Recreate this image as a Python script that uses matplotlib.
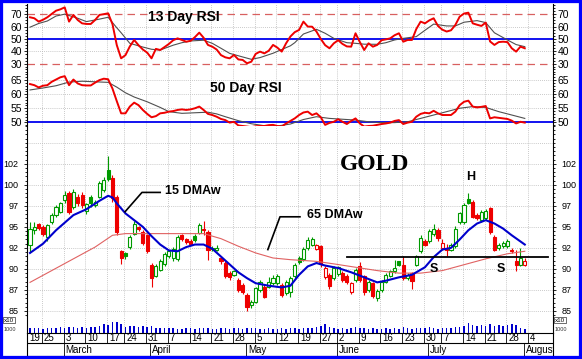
import numpy as np
import pandas as pd
import matplotlib
matplotlib.use('Agg')
from matplotlib import pyplot as plt
from matplotlib.ticker import MultipleLocator, FixedLocator
from matplotlib.patches import Rectangle

plt.rcParams['font.family'] = ['Liberation Sans', 'DejaVu Sans']

# trading days: data ends Jul 31, axis runs on one more week
holidays = ['2008-03-21', '2008-05-26', '2008-07-04']
days = pd.bdate_range('2008-02-19', '2008-08-08')
days = days[~days.isin(pd.to_datetime(holidays))]

opens = [92.9, 94.6, 95.3, 95.0, 93.8, 95.6, 96.4, 96.8, 98.2, 99.0,
         97.4, 98.6, 98.8, 96.9, 98.6, 97.6, 98.6, 99.4, 101.8, 100.8,
         98.6, 92.1, 91.95, 92.65, 94.2, 95.0, 94.4, 94.0, 90.5, 89.2,
         89.9, 90.6, 91.5, 91.3, 91.2, 94.0, 93.5, 93.3, 93.9, 94.3,
         94.7, 94.4, 92.5, 92.3, 91.3, 90.7, 89.5, 89.3, 88.7, 88.1,
         86.9, 85.7, 86.1, 87.5, 87.9, 87.9, 88.3, 88.3, 88.1, 87.1,
         87.2, 89.1, 91.3, 91.2, 92.5, 92.9, 92.4, 92.7, 89.0, 89.3,
         88.9, 89.4, 89.5, 89.2, 87.2, 88.7, 90.3, 89.1, 87.5, 88.3,
         86.6, 87.5, 88.5, 89.2, 89.7, 90.9, 90.5, 88.9, 89.5, 90.5,
         92.1, 93.3, 93.3, 94.1, 94.6, 92.5, 92.4, 92.3, 92.7, 95.6,
         95.6, 98.3, 98.0, 96.4, 95.8, 96.0, 97.2, 93.85, 92.5, 92.7,
         92.7, 92.3, 90.9, 90.5, 90.5]
highs = [95.6, 95.6, 95.5, 95.2, 95.3, 96.6, 97.6, 98.0, 99.3, 99.3,
         99.5, 98.9, 99.1, 97.9, 98.8, 98.2, 100.4, 100.9, 103.4, 101.2,
         98.8, 92.3, 92.0, 94.0, 95.7, 95.1, 94.6, 94.1, 90.7, 90.6,
         91.2, 92.0, 92.3, 92.6, 94.0, 94.2, 93.7, 93.5, 94.1, 95.5,
         95.7, 94.6, 92.7, 92.8, 91.5, 90.9, 89.7, 89.9, 88.9, 88.3,
         87.1, 86.3, 87.9, 88.7, 88.1, 89.0, 89.3, 89.4, 88.3, 88.7,
         89.1, 90.7, 91.5, 92.6, 93.8, 93.8, 93.0, 92.9, 90.3, 89.5,
         90.3, 90.4, 89.7, 89.4, 88.5, 90.1, 90.8, 89.3, 88.7, 88.5,
         87.6, 88.7, 89.5, 89.9, 91.1, 91.0, 91.5, 89.5, 89.6, 91.7,
         94.0, 93.5, 94.7, 95.3, 94.9, 93.6, 93.0, 93.1, 95.1, 96.8,
         97.8, 99.0, 98.2, 96.6, 97.0, 97.1, 97.4, 94.0, 93.1, 93.3,
         93.5, 92.5, 92.3, 92.5, 91.3]
lows = [92.0, 94.2, 94.6, 93.9, 93.3, 95.3, 96.2, 96.6, 97.8, 96.5,
        97.1, 97.5, 97.3, 96.5, 97.4, 97.4, 98.4, 99.2, 100.4, 98.0,
        94.0, 90.6, 91.2, 92.4, 94.0, 94.5, 92.9, 91.9, 87.9, 89.0,
        89.7, 90.4, 91.3, 91.0, 90.9, 93.3, 93.0, 92.8, 93.2, 94.1,
        94.0, 91.1, 92.1, 92.1, 90.6, 88.9, 88.7, 89.1, 87.3, 87.0,
        85.0, 85.3, 85.9, 87.3, 86.5, 87.7, 88.1, 88.1, 86.7, 86.9,
        86.7, 88.9, 90.6, 91.0, 92.3, 92.7, 92.2, 90.2, 88.8, 87.6,
        88.7, 89.2, 88.5, 88.2, 87.0, 88.5, 88.5, 86.9, 87.3, 86.5,
        86.2, 87.3, 88.3, 89.0, 89.5, 90.3, 88.7, 88.7, 87.6, 90.3,
        91.9, 92.7, 93.1, 93.9, 93.3, 92.2, 91.5, 92.1, 92.5, 95.4,
        95.4, 97.7, 96.0, 95.8, 95.6, 95.8, 94.2, 92.1, 92.3, 92.5,
        92.5, 91.9, 89.7, 90.3, 90.3]
closes = [94.8, 95.0, 94.9, 94.2, 95.2, 96.4, 97.4, 97.8, 98.8, 96.8,
          99.2, 97.8, 97.6, 97.7, 97.8, 98.0, 100.2, 100.6, 100.7, 98.4,
          94.4, 91.3, 91.55, 93.85, 95.4, 94.8, 93.1, 92.1, 88.9, 90.4,
          91.0, 91.8, 92.1, 92.4, 93.8, 93.5, 93.2, 93.0, 93.4, 95.2,
          94.6, 92.3, 92.35, 92.5, 90.9, 89.1, 89.0, 89.7, 87.5, 87.3,
          85.5, 86.1, 87.7, 88.5, 86.7, 88.5, 88.9, 89.1, 86.9, 88.5,
          88.9, 90.5, 90.8, 92.4, 93.4, 93.5, 92.8, 90.6, 90.1, 88.0,
          90.1, 90.2, 88.7, 88.4, 88.3, 89.9, 88.7, 87.2, 88.5, 86.8,
          87.4, 88.5, 89.3, 89.7, 90.1, 90.5, 88.9, 89.3, 88.6, 91.5,
          93.7, 92.9, 94.5, 94.8, 93.65, 93.05, 92.3, 92.9, 94.8, 96.6,
          97.6, 97.9, 96.2, 96.0, 96.8, 96.9, 94.45, 92.3, 92.9, 93.1,
          93.3, 92.1, 90.5, 91.3, 91.0]
volume = [5, 5, 5, 4, 5, 5, 5, 6, 5, 6,
          6, 5, 6, 5, 6, 6, 7, 9, 8, 11,
          11, 9, 6, 7, 7, 6, 7, 6, 7, 5,
          5, 5, 5, 5, 4, 4, 5, 5, 4, 5,
          5, 5, 4, 4, 5, 5, 4, 5, 5, 4,
          5, 5, 5, 4, 4, 5, 4, 4, 5, 4,
          5, 5, 4, 5, 5, 5, 6, 7, 9, 6,
          5, 4, 5, 4, 5, 6, 5, 5, 4, 5,
          4, 4, 5, 4, 5, 4, 6, 5, 4, 5,
          5, 5, 6, 5, 4, 5, 5, 5, 6, 6,
          7, 10, 8, 7, 8, 7, 9, 7, 8, 7,
          8, 9, 8, 5, 4]

rsi13 = [67.5, 66.7, 64.0, 65.5, 67.5, 70.2, 72.8, 73.9, 75.5, 64.0,
         69.4, 65.3, 62.6, 62.1, 62.1, 65.3, 69.4, 70.0, 70.7, 62.0,
         45.0, 34.4, 37.0, 44.0, 49.2, 45.0, 41.5, 39.0, 34.4, 42.0,
         41.1, 43.5, 46.0, 49.0, 50.5, 49.2, 47.8, 48.5, 51.5, 55.1,
         51.0, 45.2, 43.8, 41.5, 37.0, 35.2, 34.4, 37.1, 33.5, 33.1,
         30.4, 31.7, 38.0, 39.8, 38.4, 40.5, 45.2, 43.0, 39.8, 46.5,
         52.0, 55.5, 57.3, 64.0, 60.0, 59.9, 56.0, 50.0, 45.0, 42.5,
         46.5, 49.0, 46.0, 44.0, 43.8, 54.6, 47.5, 41.1, 46.5, 43.8,
         45.2, 49.0, 49.7, 50.5, 53.0, 54.6, 47.8, 49.2, 49.2, 58.0,
         64.0, 62.6, 65.0, 66.7, 60.5, 57.5, 56.0, 57.0, 61.3, 68.0,
         70.5, 71.2, 62.6, 61.5, 60.5, 63.2, 48.0, 45.2, 47.5, 47.8,
         47.5, 42.5, 39.8, 43.8, 42.5]
rsi50 = [63.6, 63.2, 62.4, 63.0, 63.2, 64.4, 65.2, 66.0, 66.4, 63.2,
         65.2, 63.8, 63.2, 63.1, 63.1, 64.1, 65.0, 65.5, 65.3, 62.0,
         57.5, 53.2, 53.2, 55.6, 57.0, 56.1, 54.4, 53.0, 51.8, 52.2,
         53.2, 53.4, 53.8, 54.0, 54.4, 54.6, 54.4, 54.6, 55.0, 55.6,
         54.4, 53.0, 52.6, 52.0, 51.2, 50.8, 49.9, 50.2, 48.9, 48.7,
         48.5, 48.3, 48.6, 48.7, 48.7, 49.0, 49.1, 48.7, 48.5, 49.6,
         50.5, 51.4, 52.6, 53.5, 53.8, 52.6, 53.2, 51.8, 49.1, 49.8,
         50.2, 51.1, 50.2, 49.4, 50.5, 51.4, 49.6, 48.5, 48.7, 48.8,
         49.1, 49.4, 49.6, 49.9, 50.5, 50.8, 49.4, 49.9, 50.2, 52.0,
         53.0, 53.4, 53.2, 54.1, 53.2, 52.6, 52.6, 52.6, 53.8, 56.1,
         57.3, 57.7, 55.6, 55.3, 55.5, 55.8, 51.4, 51.8, 51.6, 51.4,
         51.2, 50.6, 49.6, 50.2, 49.9]

sig13_days = [0, 2, 4, 6, 8, 11, 13, 16, 18, 20, 21, 23, 26, 28, 30, 33, 35, 37,
              40, 42, 44, 46, 49, 51, 53, 56, 58, 60, 61, 63, 66, 68, 70, 73, 75,
              77, 80, 82, 84, 86, 89, 91, 93, 96, 98, 100, 103, 105, 107, 110, 112, 114]
sig13 = [59.5, 62.5, 64.5, 68.5, 70.0, 66.7, 64.0, 66.0, 67.5, 59.0, 55.0, 46.5,
         43.5, 41.7, 41.1, 45.0, 47.0, 48.4, 49.0, 46.5, 42.5, 38.4, 35.5, 33.6,
         35.0, 38.5, 41.5, 44.5, 47.0, 54.0, 57.8, 54.6, 50.5, 47.0, 46.5, 45.8,
         45.7, 47.0, 49.2, 50.5, 51.9, 57.0, 62.0, 60.5, 60.5, 63.5, 64.8, 63.2,
         55.0, 49.2, 45.5, 43.8]
sig50_days = [0, 3, 6, 9, 12, 15, 18, 20, 22, 24, 27, 30, 32, 35, 38, 41, 43, 45,
              48, 51, 54, 57, 60, 63, 66, 69, 72, 75, 78, 81, 84, 87, 90, 93, 96,
              99, 102, 105, 108, 111, 114]
sig50 = [61.5, 62.2, 63.0, 64.3, 64.6, 64.4, 64.2, 62.5, 60.5, 59.0, 57.3, 55.3,
         53.8, 53.2, 53.4, 53.6, 53.0, 52.0, 50.6, 49.5, 48.8, 48.7, 49.4, 51.0,
         52.0, 51.4, 51.1, 50.8, 50.2, 49.9, 49.9, 50.2, 51.4, 52.6, 53.8, 55.0,
         55.6, 55.3, 53.8, 52.6, 51.4]

ma15_days = [0, 3, 6, 10, 13, 16, 18, 19, 20, 22, 24, 26, 28, 30, 32, 34, 36, 38,
             40, 42, 45, 48, 50, 52, 55, 58, 60, 62, 64, 66, 68, 71, 74, 77, 80,
             82, 85, 88, 91, 93, 95, 97, 99, 101, 103, 105, 107, 109, 111, 114]
ma15 = [91.9, 93.0, 94.6, 96.4, 97.1, 98.1, 98.7, 98.5, 97.8, 96.6, 95.8, 95.0,
        93.9, 92.9, 92.2, 92.1, 92.6, 92.9, 92.9, 92.4, 91.0, 89.6, 88.9, 88.3,
        88.0, 87.8, 88.0, 89.3, 90.3, 90.7, 90.4, 90.1, 89.6, 89.0, 88.4, 88.6,
        89.0, 89.3, 90.2, 91.4, 92.3, 92.5, 93.5, 94.6, 95.4, 95.8, 95.4, 94.8,
        94.0, 92.9]
ma65_days = [0, 5, 10, 15, 19, 22, 26, 30, 35, 40, 44, 48, 52, 56, 60, 66, 70,
             75, 80, 85, 90, 95, 100, 105, 110, 114]
ma65 = [88.4, 89.8, 91.2, 92.6, 94.0, 94.2, 94.2, 94.2, 94.2, 94.2, 93.6, 92.7,
        91.9, 91.3, 91.1, 90.9, 90.6, 90.2, 89.8, 89.5, 89.5, 89.8, 90.5, 91.2,
        91.8, 92.1]

neck_level = 91.45
neck_from, neck_to = 73, 119.3

W, H = 582, 359
fig = plt.figure(figsize=(W / 100, H / 100), dpi=100)
fig.patch.set_facecolor('white')


def box(top, bottom):
    return [27 / W, 1 - bottom / H, 526 / W, (bottom - top) / H]


ax13 = fig.add_axes(box(4, 68))
ax50 = fig.add_axes(box(68, 126))
axp = fig.add_axes(box(126, 316))
axv = fig.add_axes(box(316, 333))
axd = fig.add_axes(box(333, 356))

x = np.arange(len(closes))
xlim = (-0.69, 120.5)

# week and month boundaries
week_start = [i for i in range(len(days))
              if i == 0 or days[i].isocalendar()[1] != days[i - 1].isocalendar()[1]]
month_start = [i for i in range(1, len(days)) if days[i].month != days[i - 1].month]
sep = 1.25

grid_kw = dict(color='#b8b8b8', lw=0.6, ls=(0, (1, 1.5)), zorder=0)
for ax in (ax13, ax50, axp, axv):
    ax.set_xlim(*xlim)
    ax.set_xticks([])
    ax.spines['top'].set_visible(False)
    ax.spines['bottom'].set_visible(False)
    for s in ('left', 'right'):
        ax.spines[s].set_linewidth(0.8)
    for w in week_start[1:]:
        ax.axvline(w - sep, **grid_kw)
    ax.tick_params(axis='y', which='both', left=True, right=True,
                   labelleft=True, labelright=True, direction='out',
                   length=2, width=0.6, pad=1.5)
    ax.tick_params(axis='y', which='minor', length=1.5)

# 13 day RSI
ax13.set_ylim(26.6, 78.2)
ax13.yaxis.set_major_locator(FixedLocator([30, 40, 50, 60, 70]))
ax13.yaxis.set_minor_locator(MultipleLocator(2.5))
ax13.tick_params(axis='y', labelsize=7.5)
for v in (40, 60):
    ax13.axhline(v, **grid_kw)
for v in (30, 70):
    ax13.axhline(v, color='#d86060', lw=0.9, ls=(0, (6, 4)), zorder=1)
ax13.axhline(50, color='#0000ee', lw=1.3, zorder=1)
ax13.plot(sig13_days, sig13, color='#505050', lw=0.8, zorder=2)
ax13.plot(x, rsi13, color='#ee0000', lw=1.4, zorder=3)
ax13.text(27.2, 67.7, '13 Day RSI', fontsize=10, fontweight='bold', va='center')

# 50 day RSI
ax50.set_ylim(48.7, 69.3)
ax50.yaxis.set_major_locator(FixedLocator([50, 55, 60, 65]))
ax50.yaxis.set_minor_locator(MultipleLocator(1))
ax50.tick_params(axis='y', labelsize=7.5)
for v in (55, 60, 65):
    ax50.axhline(v, **grid_kw)
ax50.axhline(50, color='#0000ee', lw=1.3, zorder=1)
ax50.plot(sig50_days, sig50, color='#505050', lw=0.8, zorder=2)
ax50.plot(x, rsi50, color='#ee0000', lw=1.4, zorder=3)
ax50.text(41.5, 62.2, '50 Day RSI', fontsize=10, fontweight='bold', va='center')

# price candles
axp.set_ylim(84.4, 107.0)
price_ticks = np.arange(85, 103, 2.5)
axp.yaxis.set_major_locator(FixedLocator(price_ticks))
axp.set_yticklabels([str(int(v)) for v in price_ticks])
axp.yaxis.set_minor_locator(MultipleLocator(0.5))
axp.tick_params(axis='y', labelsize=6.5, pad=4)
for v in np.arange(85, 106, 2.5):
    axp.axhline(v, **grid_kw)

o = np.array(opens)
c = np.array(closes)
prev = np.r_[c[0] - 1, c[:-1]]
col = np.where(c >= prev, '#009a00', '#ee0000')
hollow = c > o
axp.vlines(x, lows, highs, colors=col, lw=0.8, zorder=2)
body_lo = np.minimum(o, c)
body_h = np.maximum(np.abs(c - o), 0.08)
face = np.where(hollow, 'white', col)
axp.bar(x, body_h, bottom=body_lo, width=0.72, color=face, edgecolor=col,
        linewidth=0.8, zorder=2)

axp.plot(ma65_days, ma65, color='#e06262', lw=0.8, zorder=3)
axp.plot(ma15_days, ma15, color='#0000cc', lw=1.5, zorder=3)
axp.plot([neck_from, neck_to], [neck_level, neck_level], color='black', lw=1.3, zorder=4)

axp.plot([21.9, 25.8, 30.0], [96.8, 99.1, 99.1], color='black', lw=1.2, zorder=4)
axp.text(31.1, 99.25, '15 DMAw', fontsize=9, fontweight='bold', va='center')
axp.plot([54.8, 57.6, 62.2], [92.3, 96.2, 96.2], color='black', lw=1.2, zorder=4)
axp.text(63.8, 96.4, '65 DMAw', fontsize=9, fontweight='bold', va='center')
axp.text(79.5, 102.4, 'GOLD', fontsize=17, fontweight='bold', ha='center',
         va='center', family=['Liberation Serif', 'DejaVu Serif'])
axp.text(101.6, 100.95, 'H', fontsize=9, fontweight='bold', ha='center', va='center')
for sx in (93.1, 108.5):
    axp.text(sx, 90.0, 'S', fontsize=9, fontweight='bold', ha='center', va='center', zorder=5)

# volume
axv.set_ylim(0, 17)
axv.set_yticks([])
axv.bar(x, volume, width=0.35, color='#0000cc', zorder=2)
for xf in (4 / W, 555 / W):
    fig.text(xf, 1 - 320 / H, 'x10', fontsize=4.5, va='center',
             bbox=dict(boxstyle='square,pad=0.15', fc='white', ec='black', lw=0.4))
    fig.text(xf, 1 - 329.5 / H, '1000', fontsize=4, va='center', color='#333333')

# date rows
axd.set_xlim(*xlim)
axd.set_ylim(0, 1)
axd.set_xticks([])
axd.set_yticks([])
for s in axd.spines.values():
    s.set_linewidth(0.8)
axd.axhline(0.565, color='black', lw=0.8)
for w in week_start:
    if w > 0:
        axd.plot([w - sep, w - sep], [0.565, 1], color='black', lw=0.6)
    axd.text(max(w - sep, xlim[0]) + 0.45, 0.78, str(days[w].day), fontsize=7,
             ha='left', va='center', clip_on=True)
for m in month_start:
    axd.plot([m - sep, m - sep], [0, 0.565], color='black', lw=0.6)
    axd.text(m - sep + 0.45, 0.27, days[m].strftime('%B'), fontsize=7,
             ha='left', va='center', clip_on=True)

# blue frame round the picture
fig.patches.append(Rectangle((0, 0), 1, 1, transform=fig.transFigure, fill=False,
                             edgecolor='#0000ff', linewidth=4.5))

fig.savefig('out.png', dpi=100)
